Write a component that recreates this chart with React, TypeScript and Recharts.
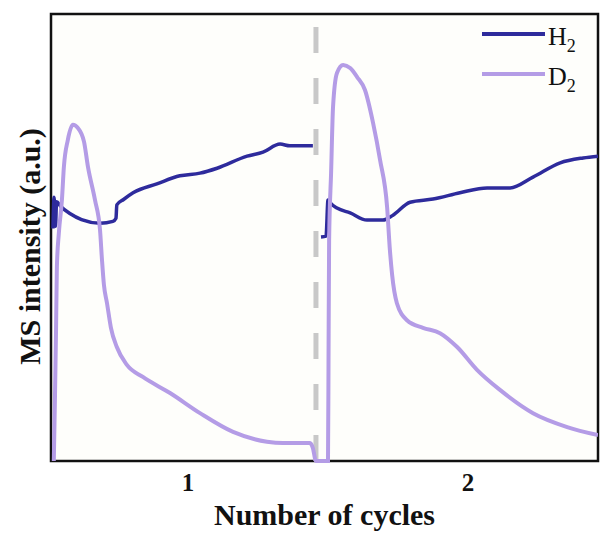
import { LineChart, Line, XAxis, YAxis, ReferenceArea, ReferenceLine, Label } from 'recharts';

const h2Color = '#2e2b9c';
const d2Color = '#b49ce6';
const serif = '"Liberation Serif", "Times New Roman", serif';

// x is in cycle units, y is relative MS intensity (0-100)
const xTicks = [1, 2];
const cycleBoundary = 1.457;

const h2Cycle1X = [0.518, 0.522, 0.527, 0.531, 0.545, 0.58, 0.62, 0.686, 0.732, 0.743, 0.746, 0.77, 0.804, 0.889, 0.971, 1.043, 1.104, 1.211, 1.268, 1.329, 1.364, 1.446];
const h2Cycle1Y = [52.0, 59.0, 52.5, 58.0, 57.0, 55.3, 54.0, 53.2, 53.6, 54.3, 57.3, 58.5, 60.0, 62.0, 63.8, 64.4, 65.5, 68.2, 69.1, 70.9, 70.5, 70.5];

const h2Cycle2X = [1.475, 1.493, 1.5, 1.507, 1.532, 1.579, 1.639, 1.696, 1.732, 1.793, 1.875, 1.971, 2.068, 2.15, 2.232, 2.329, 2.411, 2.464];
const h2Cycle2Y = [50.1, 50.3, 58.4, 57.8, 56.6, 55.5, 53.9, 53.9, 55.0, 57.9, 58.6, 60.0, 61.1, 61.1, 63.5, 66.7, 67.8, 68.2];

const d2X = [0.521, 0.525, 0.529, 0.532, 0.539, 0.55, 0.557, 0.571, 0.589, 0.607, 0.629, 0.643, 0.668, 0.686, 0.693, 0.7, 0.711, 0.725, 0.746, 0.782, 0.839, 0.936, 1.043, 1.161, 1.282, 1.339, 1.436, 1.446, 1.457, 1.5, 1.502, 1.504, 1.511, 1.518, 1.532, 1.554, 1.579, 1.604, 1.632, 1.661, 1.686, 1.711, 1.721, 1.729, 1.746, 1.782, 1.839, 1.9, 1.961, 2.032, 2.114, 2.232, 2.354, 2.464];
const d2Y = [0, 13.6, 29.3, 43.4, 51.0, 58.4, 65.8, 71.8, 75.2, 74.5, 71.4, 65.8, 58.4, 51.7, 45.0, 39.4, 35.3, 29.8, 25.5, 21.5, 18.8, 15.2, 10.7, 6.5, 4.3, 4.0, 4.0, 2.9, 0, 0, 24.8, 49.4, 64.4, 79.2, 86.8, 88.6, 87.9, 85.9, 83.0, 75.6, 67.3, 56.8, 47.2, 41.6, 35.3, 31.5, 29.8, 28.6, 25.5, 20.4, 15.9, 10.7, 7.6, 5.8];

const zip = (xs: number[], ys: number[]) => xs.map((x, i) => ({ x, y: ys[i] }));

const h2Cycle1 = zip(h2Cycle1X, h2Cycle1Y);
const h2Cycle2 = zip(h2Cycle2X, h2Cycle2Y);
const d2Data = zip(d2X, d2Y);

const legendItems = [
  { name: 'H', color: h2Color },
  { name: 'D', color: d2Color },
];

const LegendBox = () => (
  <svg width={120} height={90} style={{ position: 'absolute', left: 478, top: 14 }}>
    {legendItems.map((item, i) => (
      <g key={item.name}>
        <line x1={4} x2={67} y1={20 + i * 40} y2={20 + i * 40} stroke={item.color} strokeWidth={4} />
        <text x={70} y={31 + i * 40} fontFamily={serif} fontSize={26} fill="#111">
          {item.name}
          <tspan fontSize={18} dy={7}>2</tspan>
        </text>
      </g>
    ))}
  </svg>
);

const XTick = (props: any) => {
  const { x, y, payload } = props;
  return (
    <text x={x} y={y} dy={22} textAnchor="middle" fontFamily={serif} fontWeight="bold" fontSize={25} fill="#111">
      {payload.value}
    </text>
  );
};

export default function App() {
  return (
    <div style={{ position: 'absolute', left: 0, top: 0, width: 607, height: 540, background: '#fff' }}>
      <LineChart width={607} height={540} margin={{ top: 14, right: 9, left: 0, bottom: 0 }}>
        <XAxis
          type="number"
          dataKey="x"
          domain={[0.511, 2.464]}
          ticks={xTicks}
          allowDataOverflow
          axisLine={false}
          tickLine={false}
          tick={<XTick />}
          height={79}
        >
          <Label
            content={(p: any) => (
              <text x={p.viewBox.x + p.viewBox.width / 2} y={p.viewBox.y + 64} textAnchor="middle" fontFamily={serif} fontWeight="bold" fontSize={30} fill="#111">
                Number of cycles
              </text>
            )}
          />
        </XAxis>
        <YAxis type="number" domain={[0, 100]} width={51} tick={false} axisLine={false} tickLine={false}>
          <Label
            content={(p: any) => {
              const cx = 40;
              const cy = p.viewBox.y + p.viewBox.height / 2 + 9;
              return (
                <text x={cx} y={cy} transform={`rotate(-90, ${cx}, ${cy})`} textAnchor="middle" fontFamily={serif} fontWeight="bold" fontSize={30} fill="#111">
                  MS intensity (a.u.)
                </text>
              );
            }}
          />
        </YAxis>
        <ReferenceArea x1={0.511} x2={2.464} y1={0} y2={100} fill="#fefefb" fillOpacity={1} stroke="#111" strokeWidth={2.5} />
        <ReferenceLine x={cycleBoundary} stroke="#c8c8c8" strokeWidth={5} strokeDasharray="26 25" />
        <Line type="monotone" data={h2Cycle1} dataKey="y" stroke={h2Color} strokeWidth={3.5} dot={false} isAnimationActive={false} />
        <Line type="monotone" data={h2Cycle2} dataKey="y" stroke={h2Color} strokeWidth={3.5} dot={false} isAnimationActive={false} />
        <Line type="monotone" data={d2Data} dataKey="y" stroke={d2Color} strokeWidth={4} dot={false} isAnimationActive={false} />
      </LineChart>
      <LegendBox />
    </div>
  );
}
